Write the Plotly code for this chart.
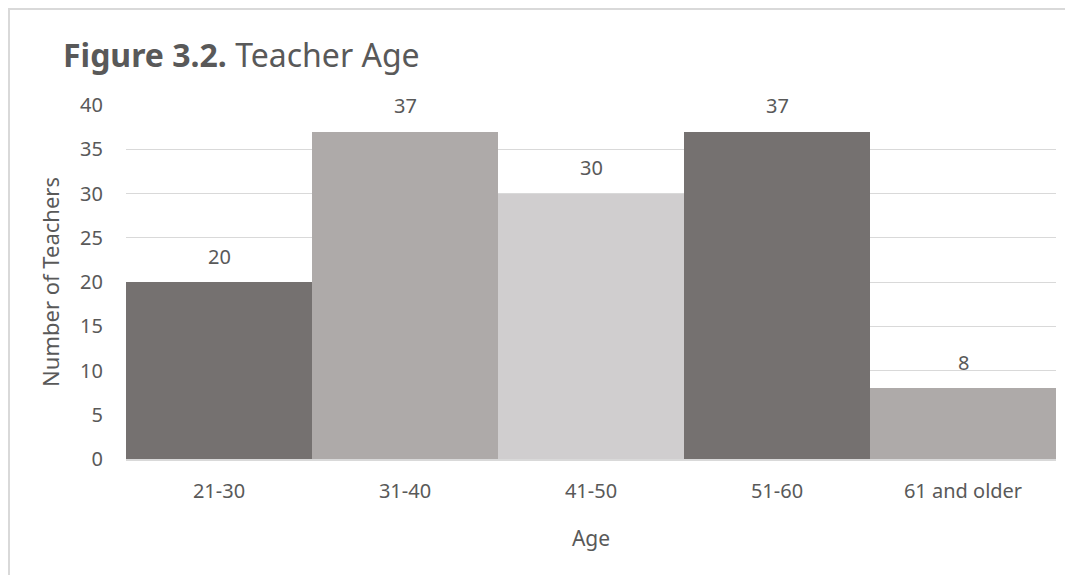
import plotly.graph_objects as go

categories = ["21-30", "31-40", "41-50", "51-60", "61 and older"]
teachers = [20, 37, 30, 37, 8]
bar_colors = ["#757170", "#aeaaa9", "#d0cecf", "#757170", "#aeaaa9"]
y_ticks = [0, 5, 10, 15, 20, 25, 30, 35, 40]

OFF = 8  # page body margin
W, H = 1073 - OFF, 575 - OFF
L, R, T, B = 126 - OFF, 17, 105 - OFF, 116
pw, ph = W - L - R, H - T - B

FONT = "Noto Sans"
TXT = "#595959"

fig = go.Figure(go.Bar(
    x=categories, y=teachers,
    marker=dict(color=bar_colors, line=dict(width=0)),
    width=1.0,
))

for c, v in zip(categories, teachers):
    fig.add_annotation(x=c, y=v, text=str(v), showarrow=False,
                       yshift=26, font=dict(family=FONT, size=20, color=TXT))

def lx(p):
    return (p - L) / pw

def ly(p):
    return 1 - (p - T) / ph

fig.add_shape(type="rect", xref="paper", yref="paper",
              x0=lx(1), x1=lx(W + 20), y0=ly(H + 20), y1=ly(1),
              line=dict(color="#d9d9d9", width=2), fillcolor="rgba(0,0,0,0)",
              layer="below")

fig.update_layout(
    width=W, height=H,
    margin=dict(l=L, r=R, t=T, b=B),
    paper_bgcolor="white", plot_bgcolor="white",
    showlegend=False,
    bargap=0,
    title=dict(text="<b>Figure 3.2.</b> Teacher Age", x=(63 - OFF) / W, xanchor="left",
               y=1 - (56 - OFF) / H, yanchor="middle", yref="container",
               font=dict(family=FONT, size=32, color=TXT)),
    xaxis=dict(title=dict(text="Age", font=dict(family=FONT, size=21, color=TXT), standoff=28),
               tickfont=dict(family=FONT, size=20, color=TXT),
               showline=True, linecolor="#d9d9d9", linewidth=2,
               ticks="", ticklabelstandoff=13),
    yaxis=dict(title=dict(text="Number of Teachers", font=dict(family=FONT, size=22, color=TXT), standoff=14),
               range=[0, 40], tickvals=y_ticks,
               tickfont=dict(family=FONT, size=20, color=TXT),
               showgrid=True, gridcolor="#d9d9d9", gridwidth=1,
               zeroline=False, ticks="", ticklabelstandoff=22),
)

fig.write_html("out.html")
